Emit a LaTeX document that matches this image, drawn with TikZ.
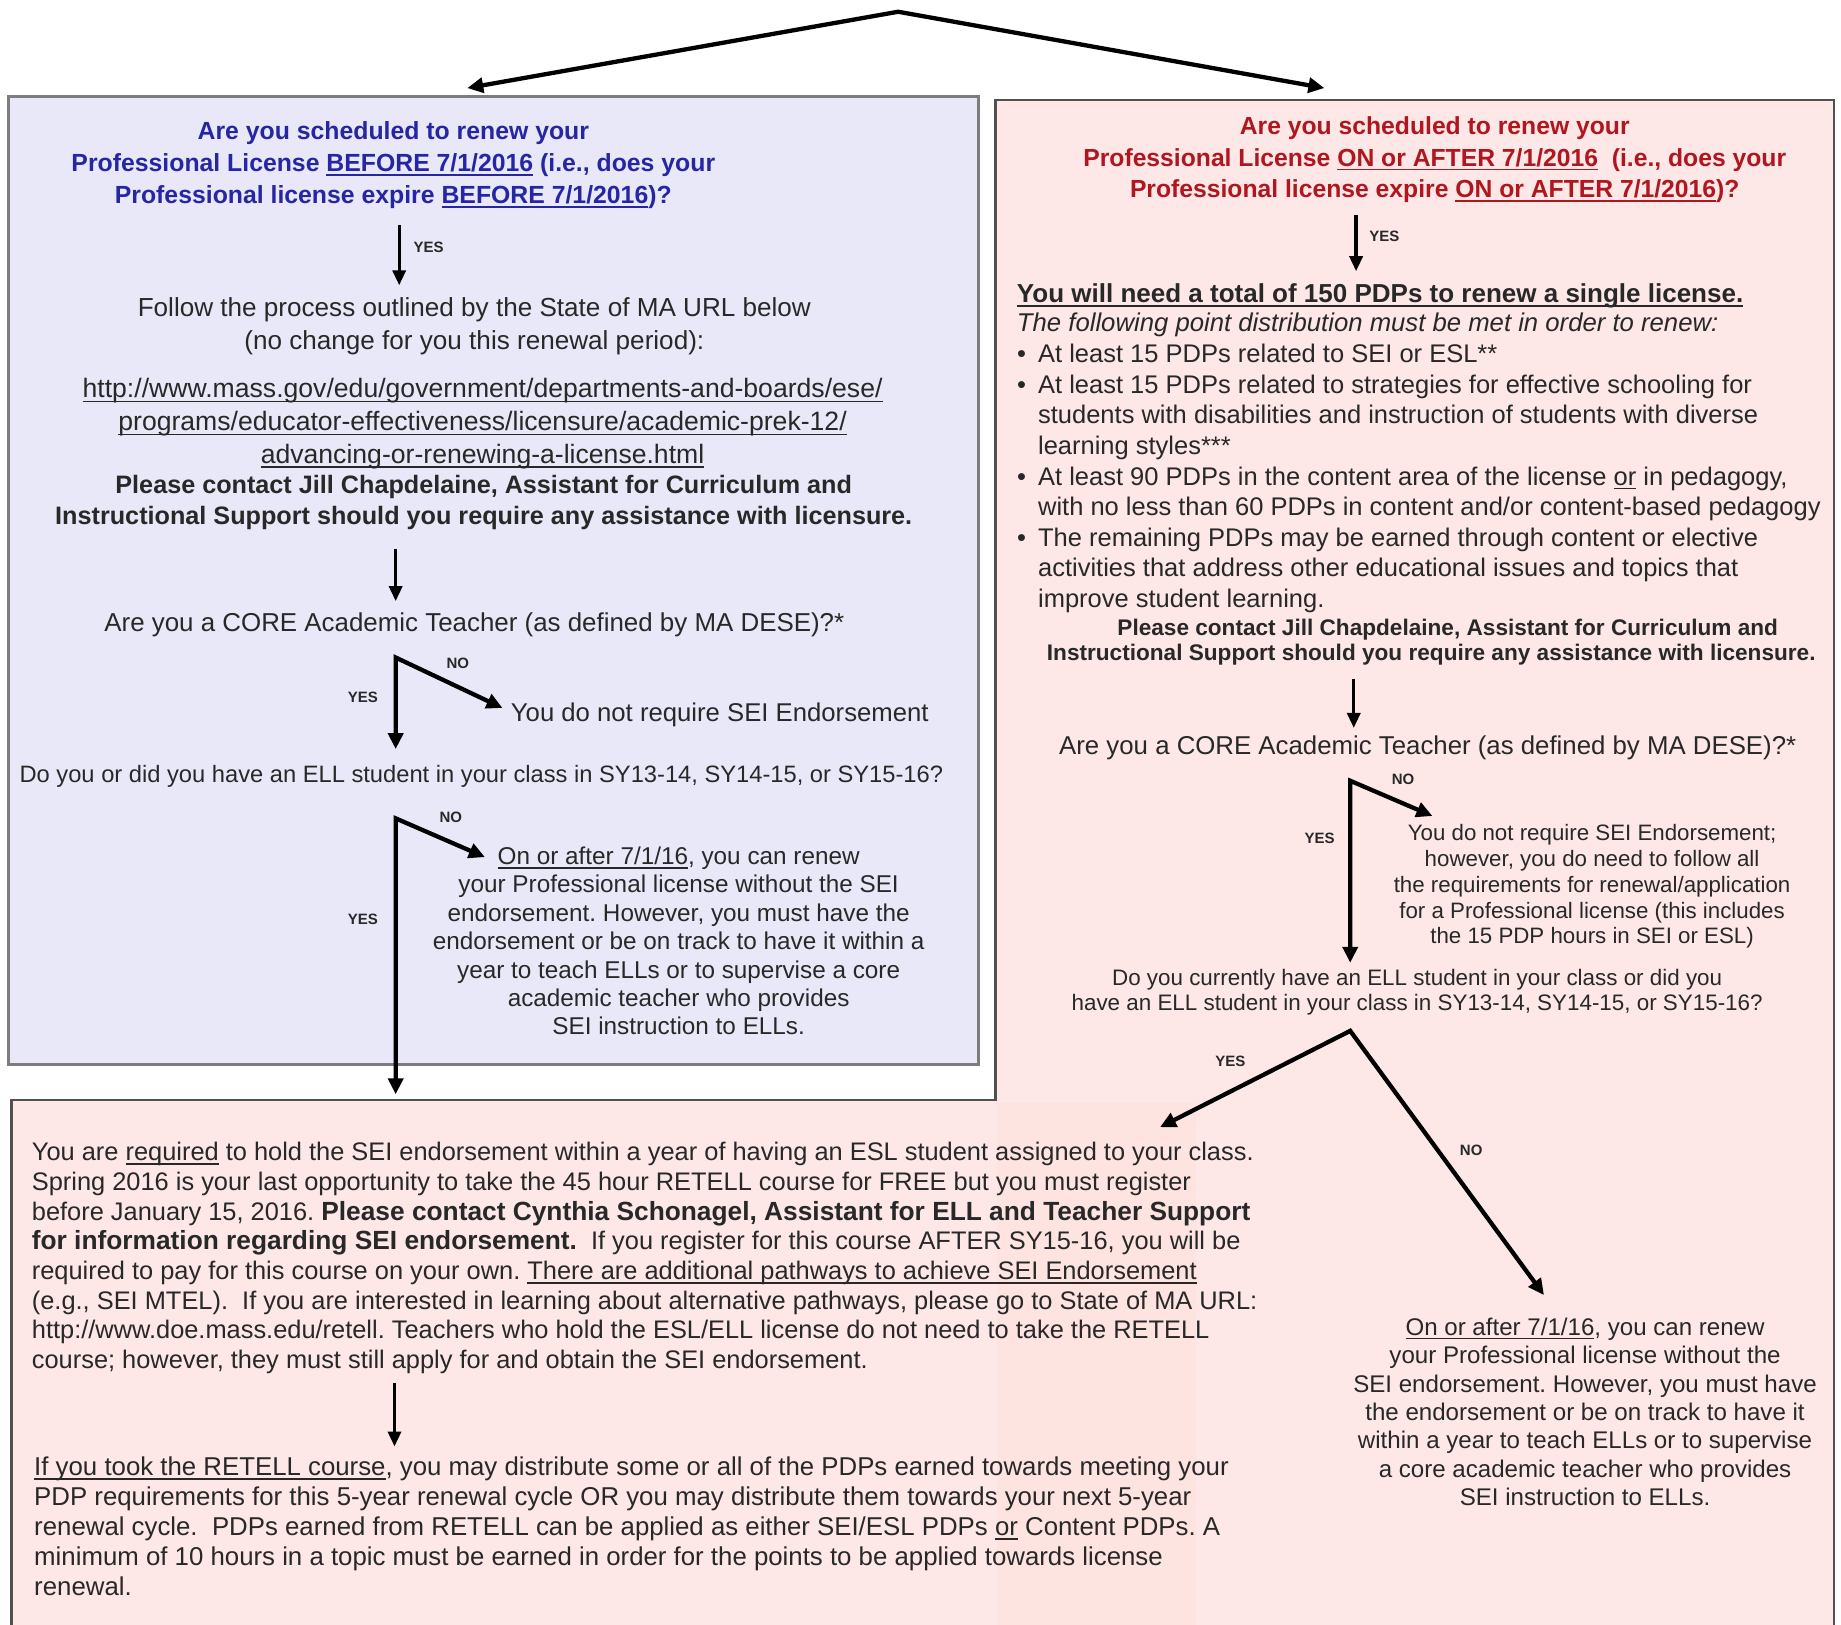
\documentclass[tikz,border=0pt]{standalone}
\usepackage{fontspec}
\setmainfont{Liberation Sans}
\usetikzlibrary{arrows.meta}
\definecolor{lav}{RGB}{232,232,248}
\definecolor{pnk}{RGB}{253,231,231}
\definecolor{pnkb}{RGB}{254,228,225}
\definecolor{hblue}{RGB}{38,38,165}
\definecolor{hred}{RGB}{176,22,30}
\definecolor{txtc}{RGB}{40,40,40}
\definecolor{lgray}{RGB}{125,125,125}
\definecolor{dgray}{RGB}{80,80,80}
\newcommand\fsz[2]{\fontsize{#1pt}{#2pt}\selectfont}
\newcommand\bul{\leavevmode\llap{\textbullet\hspace{12pt}}}
\newcommand\undl[1]{\leavevmode\setbox0=\hbox{#1}\rlap{\rule[-0.17em]{\wd0}{0.065em}}\box0\relax}
\newcommand\bbf[1]{{\bfseries\fontsize{26.3pt}{29.7pt}\selectfont #1}}
\tikzset{
  arrw/.style={line width=4.3pt, line join=miter, -{Triangle[length=16pt,width=15pt]}},
  arrwb/.style={line width=4.3pt, line join=miter, {Triangle[length=16pt,width=15pt]}-{Triangle[length=16pt,width=15pt]}},
  arrthin/.style={line width=3.4pt, -{Triangle[length=15pt,width=13pt]}},
  txtn/.style={inner sep=0pt, text=txtc},
  lab/.style={inner sep=0pt, text=txtc, font=\bfseries\fsz{15}{18}},
}
\begin{document}
\frenchspacing
\begin{tikzpicture}[x=1.1741pt,y=-1.1741pt]
\useasboundingbox (0,0) rectangle (1568,1384);
\fill[white] (0,0) rectangle (1568,1384);
% boxes
\draw[lgray, line width=3pt, fill=lav] (7,82) rectangle (833,907);
\fill[pnk] (10,1392) -- (10,937) -- (848,937) -- (848,85) -- (1562,85) -- (1562,1392) -- cycle;
\fill[pnkb] (849,939) rectangle (1019,1392);
\draw[dgray, line width=2.6pt] (10,1392) -- (10,937) -- (848,937) -- (848,85) -- (1562,85) -- (1562,1392);

% top split
\coordinate (top) at (765,10);
\coordinate (topl) at (398,75);
\coordinate (topr) at (1128,75);
\draw[arrwb] (topl) -- (top) -- (topr);

% ---------- left column ----------
\node[txtn, text=hblue, font=\bfseries\fsz{24.8}{32.3}, align=center] (lq) at (335,140.5)
 {Are you scheduled to renew your\\
  Professional License \undl{BEFORE 7/1/2016} (i.e., does your\\
  Professional license expire \undl{BEFORE 7/1/2016})?};
\coordinate (la1) at (340,192);
\coordinate (la1e) at (340,243);
\draw[arrthin] (la1) -- (la1e);
\node[lab] (ly1) at (365,211) {YES};

\node[txtn, font=\fsz{26.1}{32.9}, align=center] (follow) at (404,278)
 {Follow the process outlined by the State of MA URL below\\
  (no change for you this renewal period):};
\node[txtn, font=\fsz{26.6}{32.9}, align=center] (url) at (411,361)
 {\undl{http://www.mass.gov/edu/government/departments-and-boards/ese/}\\
  \undl{programs/educator-effectiveness/licensure/academic-prek-12/}\\
  \undl{advancing-or-renewing-a-license.html}};
\node[txtn, font=\bfseries\fsz{25.2}{30.5}, align=center] (cl) at (412,428)
 {Please contact Jill Chapdelaine, Assistant for Curriculum and\\
  Instructional Support should you require any assistance with licensure.};
\coordinate (la2) at (337,468);
\coordinate (la2e) at (337,512);
\draw[arrthin] (la2) -- (la2e);

\node[txtn, font=\fsz{25.9}{30}] (corel) at (404,532)
 {Are you a CORE Academic Teacher (as defined by MA DESE)?*};
\coordinate (lb1) at (337,560);
\coordinate (lb1y) at (337,638);
\coordinate (lb1n) at (428,603);
\draw[arrwb] (lb1y) -- (lb1) -- (lb1n);
\node[lab] (lb1nl) at (390,565) {NO};
\node[lab] (lb1yl) at (309,594) {YES};
\node[txtn, font=\fsz{25.7}{30}, anchor=west] (nosei) at (435,609)
 {You do not require SEI Endorsement};

\node[txtn, font=\fsz{23.7}{28}] (elll) at (410,661)
 {Do you or did you have an ELL student in your class in SY13-14, SY14-15, or SY15-16?};
\coordinate (lb2) at (337,697);
\coordinate (lb2y) at (337,932);
\coordinate (lb2n) at (413,730);
\draw[arrwb] (lb2y) -- (lb2) -- (lb2n);
\node[lab] (lb2nl) at (384,696) {NO};
\node[lab] (lb2yl) at (309,783) {YES};
\node[txtn, font=\fsz{24.3}{28.4}, align=center] (lno) at (578,801.5)
 {\undl{On or after 7/1/16}, you can renew\\
  your Professional license without the SEI\\
  endorsement. However, you must have the\\
  endorsement or be on track to have it within a\\
  year to teach ELLs or to supervise a core\\
  academic teacher who provides\\
  SEI instruction to ELLs.};

% ---------- right column ----------
\node[txtn, text=hred, font=\bfseries\fsz{24.7}{31.7}, align=center] (rq) at (1222,136)
 {Are you scheduled to renew your\\
  Professional License \undl{ON or AFTER 7/1/2016}\ \ (i.e., does your\\
  Professional license expire \undl{ON or AFTER 7/1/2016})?};
\coordinate (ra1) at (1155,183);
\coordinate (ra1e) at (1155,231);
\draw[arrthin] (ra1) -- (ra1e);
\node[lab] (ry1) at (1179,201) {YES};

\node[txtn, font=\bfseries\fsz{26}{30}, anchor=west] (need) at (866,252)
 {\undl{You will need a total of 150 PDPs to renew a single license.}};
\node[txtn, font=\itshape\fsz{25.7}{30}, anchor=west] (dist) at (866,277)
 {The following point distribution must be met in order to renew:};
\node[txtn, font=\fsz{25.5}{30.6}, align=left, anchor=west] (bullets) at (884,407.5)
 {\bul At least 15 PDPs related to SEI or ESL**\\
  \bul At least 15 PDPs related to strategies for effective schooling for\\
  students with disabilities and instruction of students with diverse\\
  learning styles***\\
  \bul At least 90 PDPs in the content area of the license \undl{or} in pedagogy,\\
  with no less than 60 PDPs in content and/or content-based pedagogy\\
  \bul The remaining PDPs may be earned through content or elective\\
  activities that address other educational issues and topics that\\
  improve student learning.};
\node[txtn, font=\bfseries\fsz{22.6}{25.8}, align=center] (cr) at (1219,547)
 {\hspace{33pt}Please contact Jill Chapdelaine, Assistant for Curriculum and\\
  Instructional Support should you require any assistance with licensure.};
\coordinate (ra2) at (1153,578);
\coordinate (ra2e) at (1153,620);
\draw[arrthin] (ra2) -- (ra2e);

\node[txtn, font=\fsz{25.8}{30}] (corer) at (1216,637)
 {Are you a CORE Academic Teacher (as defined by MA DESE)?*};
\coordinate (rb1) at (1150,665);
\coordinate (rb1y) at (1150,820);
\coordinate (rb1n) at (1220,695);
\draw[arrwb] (rb1y) -- (rb1) -- (rb1n);
\node[lab] (rb1nl) at (1195,664) {NO};
\node[lab] (rb1yl) at (1124,714) {YES};
\node[txtn, font=\fsz{22.3}{25.8}, align=center] (rno) at (1356,755)
 {You do not require SEI Endorsement;\\
  however, you do need to follow all\\
  the requirements for renewal/application\\
  for a Professional license (this includes\\
  the 15 PDP hours in SEI or ESL)};

\node[txtn, font=\fsz{22.4}{25.8}, align=center] (ellr) at (1207,845)
 {Do you currently have an ELL student in your class or did you\\
  have an ELL student in your class in SY13-14, SY14-15, or SY15-16?};
\coordinate (rb2) at (1150,878);
\coordinate (rb2y) at (988,960);
\coordinate (rb2n) at (1315,1103);
\draw[arrwb] (rb2y) -- (rb2) -- (rb2n);
\node[lab] (rb2yl) at (1048,904) {YES};
\node[lab] (rb2nl) at (1253,980) {NO};
\node[txtn, font=\fsz{24.1}{28.4}, align=center] (rno2) at (1350,1202.5)
 {\undl{On or after 7/1/16}, you can renew\\
  your Professional license without the\\
  SEI endorsement. However, you must have\\
  the endorsement or be on track to have it\\
  within a year to teach ELLs or to supervise\\
  a core academic teacher who provides\\
  SEI instruction to ELLs.};

% ---------- bottom ----------
\node[txtn, font=\fsz{25.4}{29.7}, align=left, anchor=west] (req) at (27,1071.5)
 {You are \undl{required} to hold the SEI endorsement within a year of having an ESL student assigned to your class.\\
  Spring 2016 is your last opportunity to take the 45 hour RETELL course for FREE but you must register\\
  before January 15, 2016. \bbf{Please contact Cynthia Schonagel, Assistant for ELL and Teacher Support}\\
  \bbf{for information regarding SEI endorsement.}\ \ If you register for this course AFTER SY15-16, you will be\\
  required to pay for this course on your own. \undl{There are additional pathways to achieve SEI Endorsement}\\
  (e.g., SEI MTEL).\ \ If you are interested in learning about alternative pathways, please go to State of MA URL:\\
  http://www.doe.mass.edu/retell. Teachers who hold the ESL/ELL license do not need to take the RETELL\\
  course; however, they must still apply for and obtain the SEI endorsement.};
\coordinate (ba) at (336,1178);
\coordinate (bae) at (336,1232);
\draw[arrthin] (ba) -- (bae);
\node[txtn, font=\fsz{25.8}{29.9}, align=left, anchor=west] (retell) at (29,1300)
 {\undl{If you took the RETELL course}, you may distribute some or all of the PDPs earned towards meeting your\\
  PDP requirements for this 5-year renewal cycle OR you may distribute them towards your next 5-year\\
  renewal cycle.\ \ PDPs earned from RETELL can be applied as either SEI/ESL PDPs \undl{or} Content PDPs. A\\
  minimum of 10 hours in a topic must be earned in order for the points to be applied towards license\\
  renewal.};
\end{tikzpicture}
\end{document}
